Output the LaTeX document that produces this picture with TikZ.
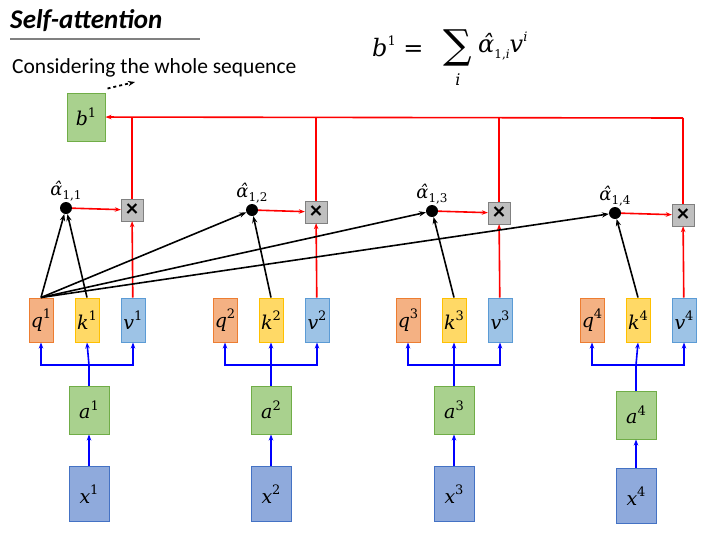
\documentclass[tikz,border=0pt]{standalone}
\usepackage{fontspec}
\setmainfont{Carlito}
\newfontfamily\mathfnt{DejaVu Serif}
\usetikzlibrary{arrows.meta}
\definecolor{qf}{HTML}{F4B183}\definecolor{qd}{HTML}{ED7D31}
\definecolor{kf}{HTML}{FFD966}\definecolor{kd}{HTML}{FFC000}
\definecolor{vf}{HTML}{9DC3E6}\definecolor{vd}{HTML}{5B9BD5}
\definecolor{gf}{HTML}{A9D18E}\definecolor{gd}{HTML}{70AD47}
\definecolor{xf}{HTML}{8FAADC}\definecolor{xd}{HTML}{4472C4}
\newcommand{\vsup}[2]{{\itshape #1}\raisebox{0.45em}{\fontsize{13}{14}\selectfont #2}}
\newcommand{\vsub}[2]{{\itshape #1}\raisebox{-0.25em}{\fontsize{12}{14}\selectfont #2}}
\begin{document}
\begin{tikzpicture}[x=1pt,y=-1pt,
 box/.style={draw,line width=1pt,minimum width=24pt,minimum height=44pt,inner sep=0pt,font=\mathfnt\fontsize{19}{22}\selectfont},
 q/.style={box,fill=qf,draw=qd},k/.style={box,fill=kf,draw=kd},v/.style={box,fill=vf,draw=vd},
 a/.style={box,fill=gf,draw=gd,minimum width=40pt,minimum height=48pt},
 xx/.style={box,fill=xf,draw=xd,minimum width=40pt,minimum height=55pt},
 dot/.style={circle,fill=black,inner sep=0pt,minimum size=12pt},
 mul/.style={draw=gray,fill=gray!50,minimum size=22pt,inner sep=0pt,font=\fontsize{24}{24}\selectfont\bfseries},
 bl/.style={blue,line width=1.6pt,-{Stealth[length=6pt]}},
 rd/.style={red,line width=1.6pt,-{Stealth[length=6pt]}},
 bk/.style={black,line width=1.6pt,-{Stealth[length=7pt]}}]
\useasboundingbox (0,0) rectangle (704,536);
\node[anchor=west,font=\fontsize{27}{30}\selectfont\bfseries\itshape,inner sep=0pt] (t) at (10,21) {Self-attention};
\draw[gray,line width=1.5pt] (10,39) -- (200,39);
\node[anchor=west,font=\fontsize{21.5}{24}\selectfont,inner sep=0pt] (c) at (12,68) {Considering the whole sequence};
\node[anchor=west,font=\mathfnt\fontsize{24}{28}\selectfont,inner sep=0pt] (f) at (372,46) {\vsup{b}{1} = };
\node[font=\mathfnt\fontsize{40}{40}\selectfont,inner sep=0pt] (s) at (458,48) {∑};
\node[font=\mathfnt\itshape\fontsize{16}{16}\selectfont,inner sep=0pt] (si) at (458,80) {i};
\node[anchor=west,font=\mathfnt\fontsize{24}{28}\selectfont,inner sep=0pt] (f2) at (478,46) {\vsub{α̂}{1,\itshape i}\vsup{v}{\itshape i}};
\node[a,minimum width=38pt] (b) at (86,117) {\vsup{b}{1}};
\coordinate (be) at (135,82);
\draw[black,line width=1.8pt,dashed,-{Stealth[length=7pt]}] (b.north east) ++(2,-4) coordinate (bs) -- (be);
\foreach \i/\q/\ax/\ay/\xy/\dx/\dy in {1/41/89/410/494/66/208,2/225/271/410/494/252/210,3/408/454/410/494/432/211,4/592/636/415/496/615/213}{
 \pgfmathsetmacro{\kx}{\q+46}\pgfmathsetmacro{\vx}{\q+92}
 \node[q] (q\i) at (\q,320) {\vsup{q}{\i}};
 \node[k] (k\i) at (\kx,320) {\vsup{k}{\i}};
 \node[v] (v\i) at (\vx,320) {\vsup{v}{\i}};
 \node[a] (a\i) at (\ax,\ay) {\vsup{a}{\i}};
 \node[xx] (x\i) at (\ax,\xy) {\vsup{x}{\i}};
 \draw[bl] (x\i) -- (a\i);
 \coordinate (j\i) at (\ax,365);
 \draw[blue,line width=1.6pt] (a\i.north) -- (j\i);
 \draw[bl] (j\i) -| (q\i.south);
 \draw[bl] (j\i) -| (v\i.south);
 \draw[bl] (j\i) -- (k\i.south);
 \node[dot] (d\i) at (\dx,\dy) {};
 \node[anchor=south,inner sep=1pt,font=\mathfnt\fontsize{18}{20}\selectfont] (l\i) at ([yshift=-1pt]d\i.north) {\vsub{α̂}{1,\i}};
 \pgfmathsetmacro{\mx}{\vx-1}\pgfmathsetmacro{\my}{\dy+2}
 \node[mul] (m\i) at (\mx,\my) {×};
 \draw[rd] (d\i) -- (m\i);
 \draw[rd] (v\i) -- (m\i);
 \draw[bk] (k\i.north) -- (d\i);
 \draw[bk] (q1.north) -- (d\i);
 \coordinate (r\i) at (\mx,118);
 \draw[red,line width=1.6pt] (m\i) -- (r\i);
}
\draw[rd] (r4) -- (b);
\end{tikzpicture}
\end{document}
